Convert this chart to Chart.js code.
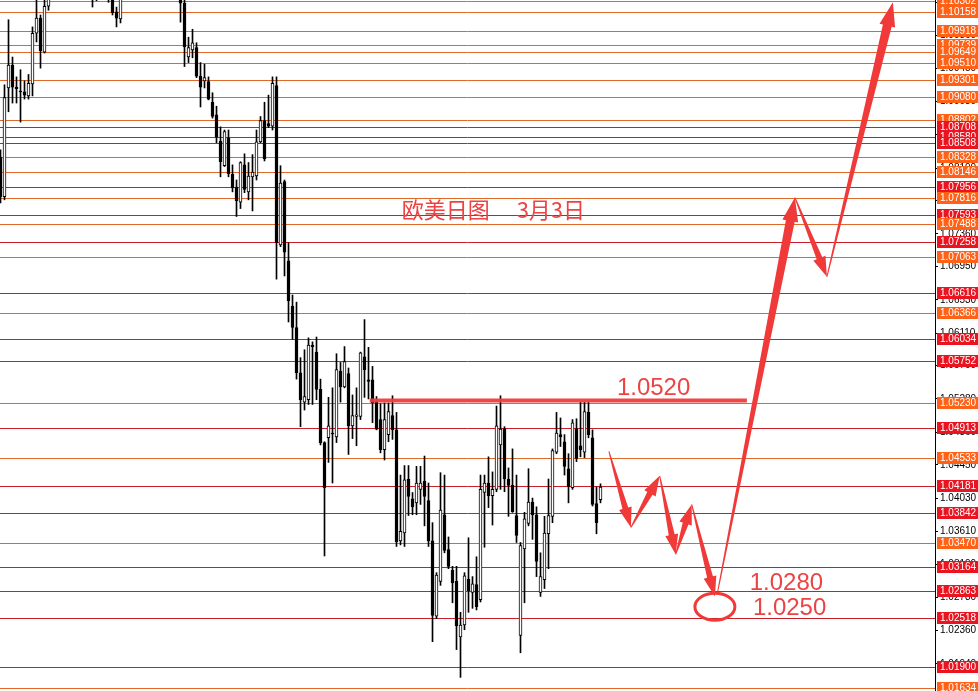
<!DOCTYPE html>
<html>
<head>
<meta charset="utf-8">
<script src="https://cdn.jsdelivr.net/npm/chart.js@4.4.1/dist/chart.umd.min.js"></script>
<style>
  body { margin: 0; background: #fff; overflow: hidden; }
  #wrap { width: 978px; height: 691px; }
</style>
</head>
<body>
<div id="wrap"><canvas id="chart"></canvas></div>
<script>
// velas diarias EURUSD (O/H/L/C), una por dia
var opens = [1.0833,1.0783,1.0920,1.0949,1.0921,1.0916,1.0915,1.0910,1.0925,1.0989,1.1008,1.0965,1.1023,1.1062,1.1081,1.1069,1.1100,1.1088,1.1107,1.1081,
  1.1069,1.1075,1.1056,1.1066,1.1050,1.1059,1.1069,1.1054,1.1044,1.1016,1.1007,1.1037,1.1056,1.1075,1.1066,1.1088,1.1079,1.1094,1.1084,1.1069,
  1.1076,1.1061,1.1069,1.1054,1.1046,1.1039,1.1027,1.0959,1.0968,1.0971,1.0935,1.0929,1.0928,1.0902,1.0886,1.0853,1.0822,1.0857,1.0811,1.0795,
  1.0776,1.0823,1.0789,1.0808,1.0809,1.0852,1.0879,1.0875,1.0872,1.0923,1.0722,1.0802,1.0702,1.0645,1.0618,1.0561,1.0524,1.0527,1.0596,1.0587,
  1.0540,1.0473,1.0479,1.0485,1.0480,1.0563,1.0543,1.0560,1.0494,1.0506,1.0506,1.0581,1.0552,1.0552,1.0524,1.0502,1.0464,1.0483,1.0507,1.0489,
  1.0349,1.0359,1.0427,1.0402,1.0397,1.0414,1.0424,1.0400,1.0349,1.0254,1.0298,1.0382,1.0338,1.0312,1.0298,1.0228,1.0243,1.0301,1.0284,1.0294,
  1.0275,1.0410,1.0422,1.0406,1.0414,1.0470,1.0490,1.0427,1.0419,1.0381,1.0230,1.0339,1.0371,1.0398,1.0382,1.0284,1.0300,1.0358,1.0380,1.0461,
  1.0483,1.0474,1.0440,1.0416,1.0490,1.0469,1.0461,1.0511,1.0479,1.0396,1.0401];
var highs = [1.0842,1.0924,1.1006,1.0959,1.0934,1.0943,1.0929,1.0937,1.0997,1.1035,1.1012,1.1034,1.1075,1.1094,1.1100,1.1109,1.1119,1.1122,1.1114,1.1092,
  1.1088,1.1084,1.1079,1.1075,1.1081,1.1088,1.1081,1.1069,1.1056,1.1022,1.1046,1.1066,1.1084,1.1088,1.1097,1.1100,1.1107,1.1104,1.1092,1.1086,
  1.1081,1.1079,1.1075,1.1062,1.1056,1.1041,1.1034,1.0984,1.0994,1.0977,1.0952,1.0950,1.0934,1.0914,1.0897,1.0871,1.0867,1.0867,1.0823,1.0804,
  1.0827,1.0837,1.0826,1.0836,1.0867,1.0884,1.0902,1.0911,1.0934,1.0934,1.0822,1.0804,1.0725,1.0659,1.0650,1.0580,1.0590,1.0605,1.0600,1.0606,
  1.0553,1.0474,1.0530,1.0542,1.0585,1.0574,1.0594,1.0567,1.0533,1.0542,1.0587,1.0628,1.0593,1.0569,1.0531,1.0522,1.0523,1.0523,1.0532,1.0511,
  1.0432,1.0444,1.0444,1.0410,1.0443,1.0443,1.0456,1.0422,1.0372,1.0309,1.0435,1.0432,1.0354,1.0317,1.0317,1.0259,1.0309,1.0353,1.0304,1.0329,
  1.0432,1.0432,1.0455,1.0436,1.0519,1.0532,1.0493,1.0441,1.0465,1.0432,1.0347,1.0385,1.0440,1.0403,1.0392,1.0334,1.0380,1.0427,1.0465,1.0511,
  1.0504,1.0483,1.0459,1.0502,1.0503,1.0524,1.0524,1.0524,1.0489,1.0417,1.0421];
var lows = [1.0775,1.0779,1.0890,1.0901,1.0901,1.0877,1.0906,1.0906,1.0910,1.0978,1.0945,1.0964,1.1018,1.1050,1.1059,1.1062,1.1079,1.1075,1.1071,1.1056,
  1.1050,1.1044,1.1041,1.1022,1.1030,1.1041,1.1037,1.1028,1.1012,1.0997,1.1002,1.1035,1.1046,1.1054,1.1059,1.1069,1.1069,1.1075,1.1062,1.1056,
  1.1054,1.1050,1.1044,1.1036,1.1034,1.1003,1.0947,1.0952,1.0958,1.0933,1.0896,1.0920,1.0905,1.0882,1.0851,1.0808,1.0821,1.0808,1.0789,1.0758,
  1.0768,1.0788,1.0779,1.0765,1.0804,1.0851,1.0828,1.0870,1.0867,1.0679,1.0720,1.0683,1.0625,1.0603,1.0553,1.0493,1.0514,1.0521,1.0521,1.0527,
  1.0470,1.0330,1.0448,1.0422,1.0473,1.0524,1.0542,1.0458,1.0478,1.0469,1.0502,1.0530,1.0528,1.0498,1.0489,1.0460,1.0451,1.0474,1.0477,1.0342,
  1.0344,1.0342,1.0381,1.0382,1.0382,1.0395,1.0368,1.0342,1.0222,1.0251,1.0293,1.0334,1.0314,1.0271,1.0212,1.0177,1.0237,1.0259,1.0264,1.0262,
  1.0272,1.0341,1.0391,1.0369,1.0411,1.0414,1.0411,1.0380,1.0385,1.0347,1.0208,1.0271,1.0368,1.0351,1.0304,1.0279,1.0289,1.0314,1.0372,1.0459,
  1.0468,1.0432,1.0397,1.0414,1.0449,1.0455,1.0454,1.0479,1.0393,1.0358,1.0397];
var closes = [1.0783,1.0908,1.0949,1.0921,1.0919,1.0915,1.0911,1.0926,1.0989,1.1008,1.0967,1.1023,1.1062,1.1081,1.1069,1.1100,1.1088,1.1107,1.1081,1.1069,
  1.1075,1.1056,1.1066,1.1050,1.1059,1.1069,1.1054,1.1044,1.1015,1.1008,1.1037,1.1056,1.1075,1.1066,1.1088,1.1079,1.1094,1.1084,1.1069,1.1076,
  1.1061,1.1069,1.1054,1.1046,1.1039,1.1027,1.0972,1.0971,1.0977,1.0935,1.0921,1.0933,1.0906,1.0884,1.0858,1.0827,1.0865,1.0812,1.0794,1.0778,
  1.0826,1.0792,1.0809,1.0814,1.0852,1.0879,1.0831,1.0872,1.0926,1.0725,1.0800,1.0713,1.0652,1.0618,1.0561,1.0527,1.0531,1.0596,1.0594,1.0540,
  1.0473,1.0416,1.0494,1.0484,1.0565,1.0543,1.0575,1.0494,1.0507,1.0508,1.0586,1.0565,1.0550,1.0523,1.0490,1.0464,1.0502,1.0512,1.0489,1.0348,
  1.0361,1.0426,1.0405,1.0392,1.0422,1.0422,1.0405,1.0349,1.0255,1.0306,1.0388,1.0337,1.0317,1.0296,1.0242,1.0243,1.0305,1.0286,1.0295,1.0266,
  1.0414,1.0422,1.0406,1.0414,1.0494,1.0490,1.0427,1.0419,1.0386,1.0356,1.0343,1.0377,1.0398,1.0382,1.0323,1.0304,1.0359,1.0381,1.0463,1.0485,
  1.0480,1.0443,1.0417,1.0498,1.0453,1.0464,1.0512,1.0483,1.0395,1.0372,1.0417];

// niveles horizontales (r = rojo, o = naranja)
var levelValues = [1.10302,1.10158,1.09918,1.09739,1.09649,1.09510,1.09301,1.09080,1.08802,1.08708,1.08580,1.08508,
  1.08328,1.08146,1.07956,1.07816,1.07593,1.07488,1.07258,1.07063,1.06616,1.06366,1.06034,1.05752,
  1.05230,1.04913,1.04533,1.04181,1.03842,1.03470,1.03164,1.02863,1.02518,1.01900,1.01634];
var levelKinds = ['o','o','o','o','o','o','o','o','o','r','r','r',
  'o','o','r','o','r','o','r','o','r','o','r','r',
  'o','r','o','r','r','o','r','r','r','r','o'];

// ticks del eje de precios
var tickValues = [1.01940,1.02360,1.02780,1.03190,1.03610,1.04030,1.04450,1.04860,1.05280,1.05700,1.06110,
  1.06530,1.06950,1.07360,1.07780,1.08190,1.08610,1.09030,1.09450,1.09860,1.10280];

// dibujo a mano: flechas (indice de vela, precio)
var arrowFromIdx = [152.1,157.6,164.8,168.8,172.8,179.3,198.6,206.6];
var arrowFromPrice = [1.0462,1.0366,1.0431,1.0332,1.0395,1.0285,1.0782,1.0682];
var arrowToIdx = [157.6,164.8,168.8,172.8,178.6,198.6,206.6,223.1];
var arrowToPrice = [1.0366,1.0431,1.0332,1.0395,1.0279,1.0782,1.0682,1.1028];
var resistIdx = [92.3, 186.6];
var resistPrice = 1.0526;
var circleIdx = 178.6;
var circlePrice = 1.0266;
var noteTexts = ['欧美日图　 3月3日', '1.0520', '1.0280', '1.0250'];
var noteIdx = [100.3, 154.1, 187.3, 188.1];
var notePrice = [1.0766, 1.0541, 1.0295, 1.0264];

var bodyData = [], wickData = [], bodyColors = [];
for (var i = 0; i < opens.length; i++) {
  bodyData.push({ x: i, y: [Math.min(opens[i], closes[i]), Math.max(opens[i], closes[i])] });
  wickData.push({ x: i, y: [lows[i], highs[i]] });
  bodyColors.push(closes[i] >= opens[i] ? '#ffffff' : '#000000');
}

var RED = '#f03a3a';

function flecha(ctx, x0, y0, x1, y1, w0, w1, hw, hl) {
  var dx = x1 - x0, dy = y1 - y0;
  var len = Math.sqrt(dx * dx + dy * dy);
  var ux = dx / len, uy = dy / len;
  var nx = -uy, ny = ux;
  var bx = x1 - ux * hl, by = y1 - uy * hl;
  ctx.beginPath();
  ctx.moveTo(x0 + nx * w0 / 2, y0 + ny * w0 / 2);
  ctx.lineTo(bx + nx * w1 / 2, by + ny * w1 / 2);
  ctx.lineTo(bx + nx * hw / 2, by + ny * hw / 2);
  ctx.lineTo(x1, y1);
  ctx.lineTo(bx - nx * hw / 2, by - ny * hw / 2);
  ctx.lineTo(bx - nx * w1 / 2, by - ny * w1 / 2);
  ctx.lineTo(x0 - nx * w0 / 2, y0 - ny * w0 / 2);
  ctx.closePath();
  ctx.fill();
}

var overlay = {
  id: 'overlay',
  beforeDatasetsDraw: function (chart) {
    var ctx = chart.ctx, a = chart.chartArea, ys = chart.scales.y;
    ctx.save();
    ctx.lineWidth = 1;
    levelValues.forEach(function (v, k) {
      var y = Math.round(ys.getPixelForValue(v)) + 0.5;
      ctx.strokeStyle = levelKinds[k] == 'r' ? '#c8202a' : '#e0692a';
      ctx.beginPath();
      ctx.moveTo(a.left, y);
      ctx.lineTo(a.right, y);
      ctx.stroke();
    });
    ctx.restore();
  },
  afterDatasetsDraw: function (chart) {
    var ctx = chart.ctx, a = chart.chartArea, xs = chart.scales.x, ys = chart.scales.y;
    ctx.save();
    ctx.beginPath();
    ctx.rect(a.left, a.top, a.right - a.left, a.bottom - a.top);
    ctx.clip();

    // linea de resistencia
    ctx.strokeStyle = 'rgba(240,60,60,0.95)';
    ctx.lineWidth = 4;
    ctx.beginPath();
    ctx.moveTo(xs.getPixelForValue(resistIdx[0]), ys.getPixelForValue(resistPrice));
    ctx.lineTo(xs.getPixelForValue(resistIdx[1]), ys.getPixelForValue(resistPrice));
    ctx.stroke();

    ctx.fillStyle = RED;
    for (var k = 0; k < arrowFromIdx.length; k++) {
      var big = k == 5 || k == 7;
      flecha(ctx,
        xs.getPixelForValue(arrowFromIdx[k]), ys.getPixelForValue(arrowFromPrice[k]),
        xs.getPixelForValue(arrowToIdx[k]), ys.getPixelForValue(arrowToPrice[k]),
        1, big ? 9 : 6, big ? 16 : 13, big ? 24 : 20);
    }

    // circulo objetivo
    ctx.strokeStyle = RED;
    ctx.lineWidth = 3;
    ctx.beginPath();
    ctx.ellipse(xs.getPixelForValue(circleIdx), ys.getPixelForValue(circlePrice), 20, 13.5, 0, 0, Math.PI * 2);
    ctx.stroke();

    ctx.textAlign = 'left';
    ctx.textBaseline = 'middle';
    noteTexts.forEach(function (t, k) {
      ctx.fillStyle = '#ec4343';
      ctx.font = k == 0 ? '22px "Noto Sans CJK SC"' : '24px "Liberation Sans"';
      ctx.fillText(t, xs.getPixelForValue(noteIdx[k]), ys.getPixelForValue(notePrice[k]));
    });
    ctx.restore();
  },
  afterDraw: function (chart) {
    var ctx = chart.ctx, a = chart.chartArea, ys = chart.scales.y;
    ctx.save();
    ctx.font = '10px "Liberation Sans"';
    ctx.textAlign = 'left';
    ctx.textBaseline = 'middle';
    levelValues.forEach(function (v, k) {
      var y = Math.round(ys.getPixelForValue(v));
      ctx.fillStyle = levelKinds[k] == 'r' ? '#ea1420' : '#ff6116';
      ctx.fillRect(a.right + 2, y - 6, 41, 12);
      ctx.fillStyle = '#fff';
      ctx.fillText(v.toFixed(5), a.right + 5, y + 0.5);
    });
    ctx.restore();
  }
};

var ctx = document.getElementById('chart');
var chart = new Chart(ctx, {
  type: 'bar',
  data: {
    datasets: [{
      data: bodyData,
      backgroundColor: bodyColors,
      borderColor: '#000',
      borderWidth: 1,
      borderSkipped: false,
      barThickness: 3,
      grouped: false
    }, {
      data: wickData,
      backgroundColor: '#000',
      barThickness: 1,
      grouped: false
    }]
  },
  options: {
    responsive: true,
    maintainAspectRatio: false,
    animation: false,
    layout: { padding: 0 },
    plugins: { legend: { display: false }, tooltip: { enabled: false } },
    scales: {
      x: { type: 'linear', offset: false, min: -0.125, max: 233.625, display: false },
      y: {
        position: 'right',
        min: 1.01598,
        max: 1.10309,
        afterBuildTicks: function (s) { s.ticks = tickValues.map(function (v) { return { value: v }; }); },
        afterFit: function (s) { s.width = 43; s.paddingTop = 0; s.paddingBottom = 0; },
        ticks: {
          autoSkip: false,
          padding: 2,
          color: '#000',
          font: { family: 'Liberation Sans', size: 10 },
          callback: function (v) { return v.toFixed(5); }
        },
        grid: { drawOnChartArea: false, tickLength: 3, color: '#000' },
        border: { display: true, color: '#000', width: 1 }
      }
    }
  },
  plugins: [overlay]
});
</script>
</body>
</html>
